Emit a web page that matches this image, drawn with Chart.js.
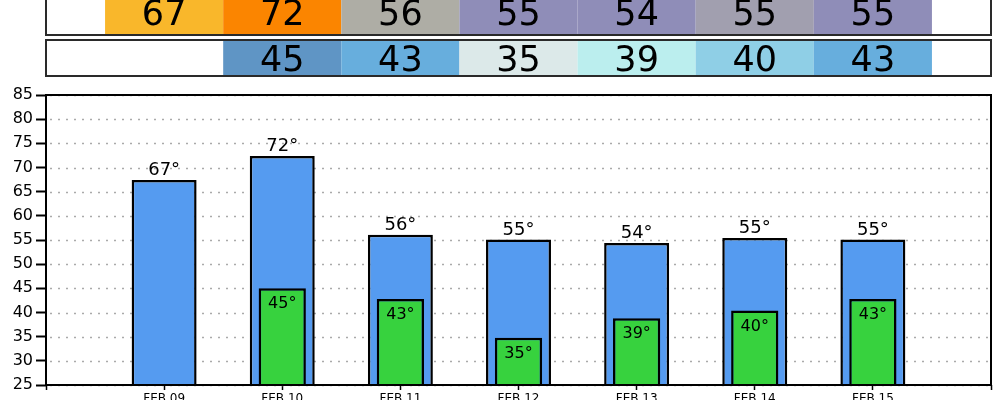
<!DOCTYPE html>
<html><head><meta charset="utf-8">
<script src="https://cdn.jsdelivr.net/npm/chart.js@4/dist/chart.umd.min.js"></script>
<style>html,body{margin:0;padding:0;background:#fff;overflow:hidden;}#wrap{width:1000px;height:400px;position:relative;}</style>
</head><body><div id="wrap"><canvas id="c"></canvas></div>
<script>
const categories = ['FEB 09','FEB 10','FEB 11','FEB 12','FEB 13','FEB 14','FEB 15'];
const highTemps = [67.4, 72.4, 56.1, 55.1, 54.4, 55.4, 55.1];
const lowTemps = [null, 45.0, 42.8, 34.8, 38.8, 40.4, 42.8];
const highColors = ['#F9B72B','#FB8500','#AEADA5','#8F8DB8','#8F8DB8','#A19FAF','#8F8DB8'];
const lowColors = [null,'#5F95C5','#67AEDD','#DCE9E9','#BBEEEE','#8FCFE6','#67AEDD'];
const yMin = 25, yMax = 85, yStep = 5;

const labels = [''].concat(categories, ['']);
const pad = arr => [null].concat(arr, [null]);
const FONT = '"DejaVu Sans", sans-serif';

const topRows = {
  id: 'topRows',
  afterDraw(chart) {
    const ctx = chart.ctx, xs = chart.scales.x, ca = chart.chartArea;
    const rows = [
      {vals: highTemps, cols: highColors, y0: -5, y1: 35, base: 25},
      {vals: lowTemps, cols: lowColors, y0: 40, y1: 76, base: 71}
    ];
    ctx.save();
    rows.forEach(r => {
      r.vals.forEach((v, i) => {
        if (v === null) return;
        const x = xs.getPixelForValue(i + 1);
        const half = (xs.getPixelForValue(i + 2) - x) / 2;
        ctx.fillStyle = r.cols[i];
        ctx.fillRect(x - half, r.y0, half * 2, r.y1 - r.y0);
        ctx.fillStyle = '#000';
        ctx.font = '35px ' + FONT;
        ctx.textAlign = 'center';
        ctx.textBaseline = 'alphabetic';
        ctx.fillText(String(Math.round(v)), x, r.base);
      });
      ctx.strokeStyle = '#2a2a2a';
      ctx.lineWidth = 2;
      ctx.strokeRect(ca.left, r.y0, ca.right - ca.left, r.y1 - r.y0);
    });
    ctx.restore();
  }
};

const plotDecor = {
  id: 'plotDecor',
  beforeDatasetsDraw(chart) {
    const ctx = chart.ctx, ys = chart.scales.y, ca = chart.chartArea;
    ctx.save();
    ctx.strokeStyle = '#aaaaaa';
    ctx.lineWidth = 1.5;
    ctx.setLineDash([2, 6]);
    ys.ticks.forEach(t => {
      const y = Math.round(ys.getPixelForValue(t.value)) + 0.5;
      ctx.beginPath(); ctx.moveTo(ca.left + 4, y); ctx.lineTo(ca.right, y); ctx.stroke();
    });
    ctx.restore();
  },
  afterDatasetsDraw(chart) {
    const ctx = chart.ctx, ca = chart.chartArea;
    ctx.save();
    ctx.fillStyle = '#000';
    ctx.textAlign = 'center';
    ctx.textBaseline = 'alphabetic';
    chart.data.datasets.forEach((ds, di) => {
      const meta = chart.getDatasetMeta(di);
      meta.data.forEach((el, i) => {
        const v = ds.data[i];
        if (v === null || v === undefined) return;
        const t = Math.round(v) + '°';
        if (ds.kind === 'high') {
          ctx.font = '500 18px ' + FONT;
          ctx.fillText(t, el.x, el.y - 5);
        } else {
          ctx.font = '16px ' + FONT;
          ctx.fillText(t, el.x, el.y + 20);
        }
      });
    });
    ctx.strokeStyle = '#000';
    ctx.lineWidth = 2;
    ctx.setLineDash([]);
    ctx.strokeRect(ca.left, ca.top, ca.right - ca.left, ca.bottom - ca.top);
    ctx.restore();
  }
};

new Chart(document.getElementById('c'), {
  type: 'bar',
  data: {
    labels: labels,
    datasets: [
      {kind: 'low', data: pad(lowTemps), backgroundColor: '#37D23E', borderColor: '#000', borderWidth: 2.5,
       grouped: false, categoryPercentage: 1, barPercentage: 0.40, borderSkipped: 'start'},
      {kind: 'high', data: pad(highTemps), backgroundColor: '#559BF0', borderColor: '#000', borderWidth: 2.5,
       grouped: false, categoryPercentage: 1, barPercentage: 0.55, borderSkipped: 'start'}
    ]
  },
  options: {
    responsive: true, maintainAspectRatio: false, animation: false,
    layout: {padding: {top: 95, right: 9, left: 0, bottom: 0}},
    plugins: {legend: {display: false}, tooltip: {enabled: false}},
    scales: {
      x: {
        offset: false,
        grid: {display: true, offset: false, drawOnChartArea: false, tickLength: 5, tickColor: '#000', tickWidth: 1.5},
        border: {display: false},
        ticks: {color: '#000', font: {family: FONT, size: 12}, padding: 2, autoSkip: false, maxRotation: 0},
        afterFit: s => { s.height = 15; }
      },
      y: {
        min: yMin, max: yMax,
        grid: {display: true, drawOnChartArea: false, tickLength: 10, tickColor: '#000', tickWidth: 2},
        border: {display: false},
        ticks: {stepSize: yStep, color: '#000', font: {family: FONT, size: 16}, padding: 3},
        afterFit: s => { s.width = 46; }
      }
    }
  },
  plugins: [plotDecor, topRows]
});
</script></body></html>
